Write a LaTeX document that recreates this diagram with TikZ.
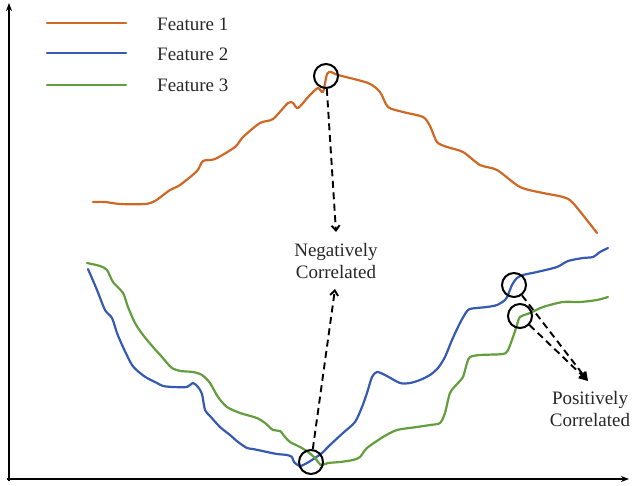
\documentclass[tikz,border=0pt]{standalone}
\usepackage{fontspec}
\setmainfont{Liberation Serif}
\usetikzlibrary{arrows.meta}
\definecolor{fone}{RGB}{206,104,36}
\definecolor{ftwo}{RGB}{54,90,178}
\definecolor{fthree}{RGB}{98,158,62}
\begin{document}
\begin{tikzpicture}[x=1pt,y=-1pt,
  curve/.style={line width=2.2pt,line join=round,line cap=round},
  ring/.style={circle,draw=black,line width=2pt,minimum size=24pt,inner sep=0pt},
  lbl/.style={font=\fontsize{19}{22}\selectfont,text=black!85,inner sep=1pt},
  dasharrow/.style={line width=1.9pt,dash pattern=on 7pt off 4.5pt},
  axis/.style={line width=2.1pt,-{Stealth[length=8pt,width=6pt]}}]
\useasboundingbox (0,0) rectangle (632,486);
% axes
\coordinate (O) at (9,479);
\coordinate (Ytop) at (9,3);
\coordinate (Xend) at (629,479);
\draw[axis] (9,481) -- (Ytop);
\draw[axis] (7,479) -- (Xend);
% legend
\coordinate (l1a) at (47,23); \coordinate (l1b) at (126,23);
\coordinate (l2a) at (47,53); \coordinate (l2b) at (126,53);
\coordinate (l3a) at (47,85); \coordinate (l3b) at (126,85);
\draw[curve,fone] (l1a) -- (l1b);
\draw[curve,ftwo] (l2a) -- (l2b);
\draw[curve,fthree] (l3a) -- (l3b);
\node[lbl,anchor=west] (t1) at (156,24) {Feature 1};
\node[lbl,anchor=west] (t2) at (156,54) {Feature 2};
\node[lbl,anchor=west] (t3) at (156,85) {Feature 3};
% Feature 1
\draw[curve,fone] plot[smooth,tension=0.45] coordinates {
 (93,202) (105,202) (120,204) (145,204) (155,201) (170,190) (180,185)
 (197,171) (203,161) (215,159) (235,147) (243,137) (260,123) (273,119)
 (288,103) (293,103) (298,108) (310,95) (318,88) (323,92) (327,74)
 (331,72) (338,75) (368,83) (380,92) (388,107) (403,112) (423,117)
 (430,126) (437,142) (447,147) (463,152) (480,165) (497,170) (520,187)
 (543,193) (563,197) (573,203) (597,233)};
% Feature 2
\draw[curve,ftwo] plot[smooth,tension=0.45] coordinates {
 (88,269) (97,290) (105,310) (112,318) (117,333) (123,347) (132,365)
 (140,373) (147,378) (157,383) (163,386) (173,387) (187,387) (193,383)
 (198,387) (202,394) (205,410) (210,416) (220,427) (230,435) (238,442)
 (247,448) (253,449) (267,452) (277,454) (287,455) (292,457) (294,462)
 (300,466) (307,463) (315,458) (322,453) (330,445) (343,433) (355,422)
 (362,407) (367,393) (372,377) (377,372) (385,375) (400,383) (410,383)
 (420,380) (430,375) (438,368) (445,357) (452,340) (460,323) (468,310)
 (477,308) (487,307) (497,305) (505,300) (508,295) (512,285) (517,278)
 (523,275) (537,272) (557,267) (568,261) (583,258) (593,257) (600,252)
 (608,248)};
% Feature 3
\draw[curve,fthree] plot[smooth,tension=0.45] coordinates {
 (87,263) (100,266) (107,270) (113,282) (123,293) (128,307) (135,323)
 (143,335) (153,347) (162,357) (167,363) (172,368) (180,371) (193,372)
 (202,375) (210,383) (218,397) (227,407) (240,413) (257,418) (265,423)
 (273,430) (280,431) (285,437) (290,442) (300,447) (308,452) (315,458)
 (321,465) (328,463) (340,462) (353,460) (360,457) (367,448) (383,437)
 (397,430) (417,427) (430,425) (440,423) (445,413) (450,393) (458,383)
 (463,377) (467,363) (470,357) (480,355) (503,354) (508,350) (513,337)
 (517,325) (520,317) (530,313) (543,307) (563,302) (580,302) (597,300)
 (608,297)};
% circles
\node[ring] (c1) at (326,76) {};
\node[ring] (c2) at (311,462) {};
\node[ring] (c3) at (514,285) {};
\node[ring] (c4) at (520,316) {};
% labels
\node[lbl,align=center] (neg) at (336,261) {Negatively\\Correlated};
\node[lbl,align=center] (pos) at (590,409) {Positively\\Correlated};
\coordinate (ntop) at (336,232);
\coordinate (nbot) at (335,289);
\coordinate (ptip) at (588,381);
% arrows
\draw[dasharrow,-{Straight Barb[length=5pt,width=8pt]}] (c1) -- (ntop);
\draw[dasharrow,-{Straight Barb[length=5pt,width=8pt]}] (c2) -- (nbot);
\draw[dasharrow,-{Triangle[length=9pt,width=9pt]}] (c3) -- (ptip);
\draw[dasharrow,-{Triangle[length=9pt,width=9pt]}] (c4) -- (ptip);
\end{tikzpicture}
\end{document}
